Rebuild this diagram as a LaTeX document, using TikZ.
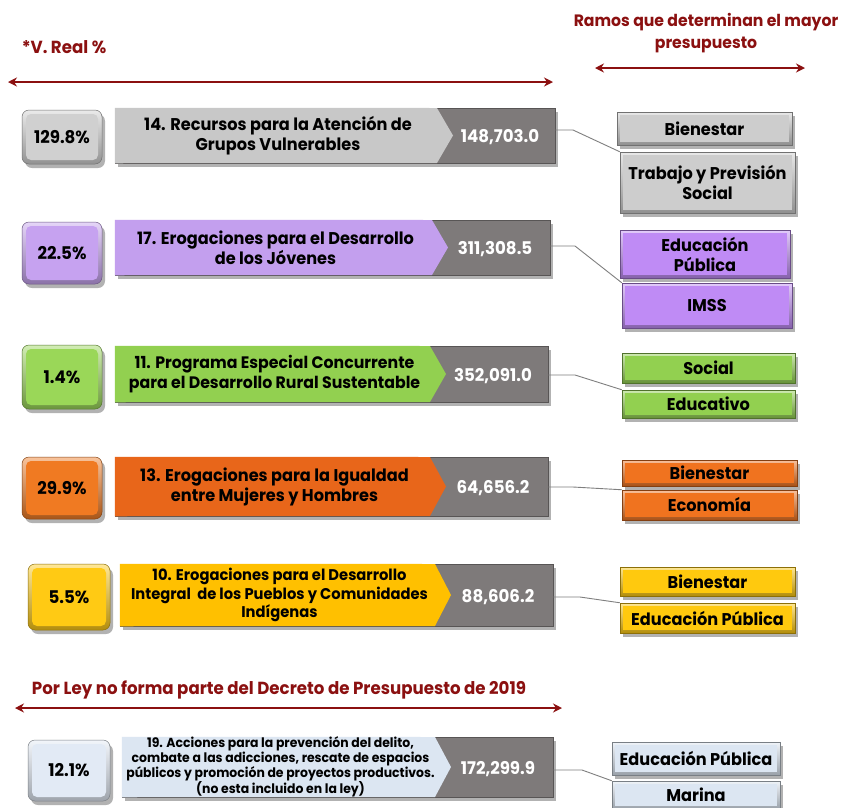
\documentclass[tikz,border=0pt]{standalone}
\usepackage{fontspec}
\setmainfont{Poppins}[FakeStretch=0.95]
\usetikzlibrary{shadows,arrows.meta}
\definecolor{dred}{HTML}{8B1010}
\definecolor{darkbar}{HTML}{7E7A7A}
\definecolor{connc}{HTML}{7F7F7F}
\definecolor{greyA}{HTML}{C8C8C8}\definecolor{greyP}{HTML}{D0D0D0}\definecolor{greyR}{HTML}{CDCDCD}
\definecolor{purA}{HTML}{C39FEE}\definecolor{purP}{HTML}{C6A2F0}\definecolor{purR}{HTML}{BF8BF5}
\definecolor{grnA}{HTML}{92D050}\definecolor{grnP}{HTML}{9AD758}\definecolor{grnR}{HTML}{92D050}
\definecolor{orA}{HTML}{E8661A}\definecolor{orP}{HTML}{F07A22}\definecolor{orR}{HTML}{F0731F}
\definecolor{yeA}{HTML}{FFC000}\definecolor{yeP}{HTML}{FFCA14}\definecolor{yeR}{HTML}{FFC90E}
\definecolor{blA}{HTML}{DCE6F2}\definecolor{blP}{HTML}{E2EAF5}\definecolor{blR}{HTML}{DCE6F2}
\tikzset{
  shd/.style={drop shadow={shadow xshift=3pt,shadow yshift=-4pt,opacity=0.3,fill=black}},
  pct/.style={rounded corners=7pt, top color=#1!45!white, bottom color=#1!70!black,
    draw=#1!55!black, line width=0.5pt, shd, inner sep=1pt,
    font=\bfseries\fontsize{17.5}{20}\selectfont,
    path picture={\fill[#1,rounded corners=5pt]
      ([shift={(4pt,-4pt)}]path picture bounding box.north west) rectangle
      ([shift={(-4pt,4pt)}]path picture bounding box.south east);}},
  rbox/.style={top color=#1!45!white, bottom color=#1!70!black,
    draw=#1!55!black, line width=0.5pt, shd, inner sep=1pt, align=center,
    font=\bfseries\fontsize{17}{20}\selectfont,
    path picture={\fill[#1]
      ([shift={(3pt,-3pt)}]path picture bounding box.north west) rectangle
      ([shift={(-3pt,3pt)}]path picture bounding box.south east);}},
  bardark/.style={fill=darkbar, draw=darkbar!70!black, line width=0.5pt, shd, inner sep=0pt},
  bartext/.style={align=center, inner sep=0pt},
  valtext/.style={text=white, font=\bfseries\fontsize{17.5}{20}\selectfont, inner sep=0pt},
  hdr/.style={text=dred, font=\bfseries\fontsize{17.5}{22}\selectfont, align=center, inner sep=0pt},
  harrow/.style={dred, line width=1.5pt, {Stealth[length=9pt,width=9pt]}-{Stealth[length=9pt,width=9pt]}},
  conn/.style={connc, line width=0.9pt}
}
% box by corners: name, style, x1, y1, x2, y2, text
\newcommand\boxat[7]{%
  \node[#2, minimum width={(#5-#3)*1pt}, minimum height={(#6-#4)*1pt}] (#1)
    at ({(#3+#5)/2},{(#4+#6)/2}) {#7};}
% bar: name, x1, y1, x2, y2, colour, text, value, font
\newcommand\rowbar[9]{%
  \node[bardark, minimum width={(#4-#2)*1pt}, minimum height={(#5-#3)*1pt}] (#1)
    at ({(#2+#4)/2},{(#3+#5)/2}) {};
  \fill[#6] (#1.north west) -- ({#4-118},#3) -- ({#4-102},{(#3+#5)/2}) -- ({#4-118},#5) -- (#1.south west) -- cycle;
  \node[bartext, font={\bfseries#9}] (#1t) at ({(#2+#4-118)/2+2},{(#3+#5)/2}) {#7};
  \node[valtext] (#1v) at ({#4-55},{(#3+#5)/2+2}) {#8};}
\begin{document}
\begin{tikzpicture}[x=1pt,y=-1pt]
\useasboundingbox (0,0) rectangle (844,807);
\fill[white] (0,0) rectangle (844,807);

% headers
\node[hdr] (h1) at (64,47) {*V. Real \%};
\coordinate (a1l) at (8,82); \coordinate (a1r) at (553,82);
\draw[harrow] (a1l) -- (a1r);
\node[hdr, font=\bfseries\fontsize{16.5}{22}\selectfont] (h2) at (706,33) {Ramos que determinan el mayor\\presupuesto};
\coordinate (a2l) at (595,68); \coordinate (a2r) at (805,68);
\draw[harrow] (a2l) -- (a2r);

% row 1
\boxat{p1}{pct=greyP}{22}{110}{102}{164}{129.8\%}
\rowbar{b1}{115}{108}{555}{163}{greyA}{14. Recursos para la Atención de\\Grupos Vulnerables}{148,703.0}{\fontsize{17}{20}\selectfont}
\boxat{r1a}{rbox=greyR}{617}{112}{792}{145}{Bienestar}
\boxat{r1b}{rbox=greyR}{620}{152}{795}{213}{Trabajo y Previsión\\Social}
\coordinate (k1) at (573,130);
\draw[conn] (b1.east |- k1) -- (k1) -- (r1b.north west);

% row 2
\boxat{p2}{pct=purP}{22}{222}{102}{284}{22.5\%}
\rowbar{b2}{115}{220}{550}{275}{purA}{17. Erogaciones para el Desarrollo\\de los Jóvenes}{311,308.5}{\fontsize{17}{20}\selectfont}
\boxat{r2a}{rbox=purR}{620}{230}{790}{278}{Educación\\Pública}
\boxat{r2b}{rbox=purR}{622}{283}{792}{328}{IMSS}
\coordinate (k2) at (575,246);
\draw[conn] (b2.east |- k2) -- (k2) -- (r2b.north west);

% row 3
\boxat{p3}{pct=grnP}{22}{345}{102}{409}{1.4\%}
\rowbar{b3}{115}{346}{548}{402}{grnA}{11. Programa Especial Concurrente\\para el Desarrollo Rural Sustentable}{352,091.0}{\fontsize{16.6}{20}\selectfont}
\boxat{r3a}{rbox=grnR}{622}{353}{795}{383}{Social}
\boxat{r3b}{rbox=grnR}{622}{390}{795}{418}{Educativo}
\coordinate (k3) at (575,375);
\draw[conn] (b3.east |- k3) -- (k3) -- (r3b.north west);

% row 4
\boxat{p4}{pct=orP}{22}{457}{102}{519}{29.9\%}
\rowbar{b4}{115}{457}{548}{516}{orA}{13. Erogaciones para la Igualdad\\entre Mujeres y Hombres}{64,656.2}{\fontsize{17}{20}\selectfont}
\boxat{r4a}{rbox=orR}{622}{460}{797}{486}{Bienestar}
\boxat{r4b}{rbox=orR}{622}{490}{797}{520}{Economía}
\coordinate (k4) at (573,487);
\draw[conn] (b4.east |- k4) -- (k4) -- (r4b.north west);

% row 5
\boxat{p5}{pct=yeP}{28}{564}{110}{630}{5.5\%}
\rowbar{b5}{120}{564}{553}{626}{yeA}{10. Erogaciones para el Desarrollo\\Integral\ \ de los Pueblos y Comunidades\\Indígenas}{88,606.2}{\fontsize{15.5}{18.5}\selectfont}
\boxat{r5a}{rbox=yeR}{620}{567}{795}{596}{Bienestar}
\boxat{r5b}{rbox=yeR}{620}{603}{795}{633}{Educación Pública}
\coordinate (k5) at (580,597);
\draw[conn] (b5.east |- k5) -- (k5) -- (r5b.north west);

% bottom header
\node[hdr] (h3) at (279,690) {Por Ley no forma parte del Decreto de Presupuesto de 2019};
\coordinate (a3l) at (15,708); \coordinate (a3r) at (562,708);
\draw[harrow] (a3l) -- (a3r);

% row 6
\boxat{p6}{pct=blP}{28}{740}{110}{801}{12.1\%}
\rowbar{b6}{122}{737}{553}{797}{blA}{19. Acciones para la prevención del delito,\\combate a las adicciones, rescate de espacios\\públicos y promoción de proyectos productivos.\\(no esta incluido en la ley)}{172,299.9}{\fontsize{13.1}{15}\selectfont}
\boxat{r6a}{rbox=blR}{612}{742}{780}{775}{Educación Pública}
\boxat{r6b}{rbox=blR}{612}{781}{780}{809}{Marina}
\coordinate (k6) at (582,770);
\draw[conn] (b6.east |- k6) -- (k6) -- (r6b.north west);
\end{tikzpicture}
\end{document}
